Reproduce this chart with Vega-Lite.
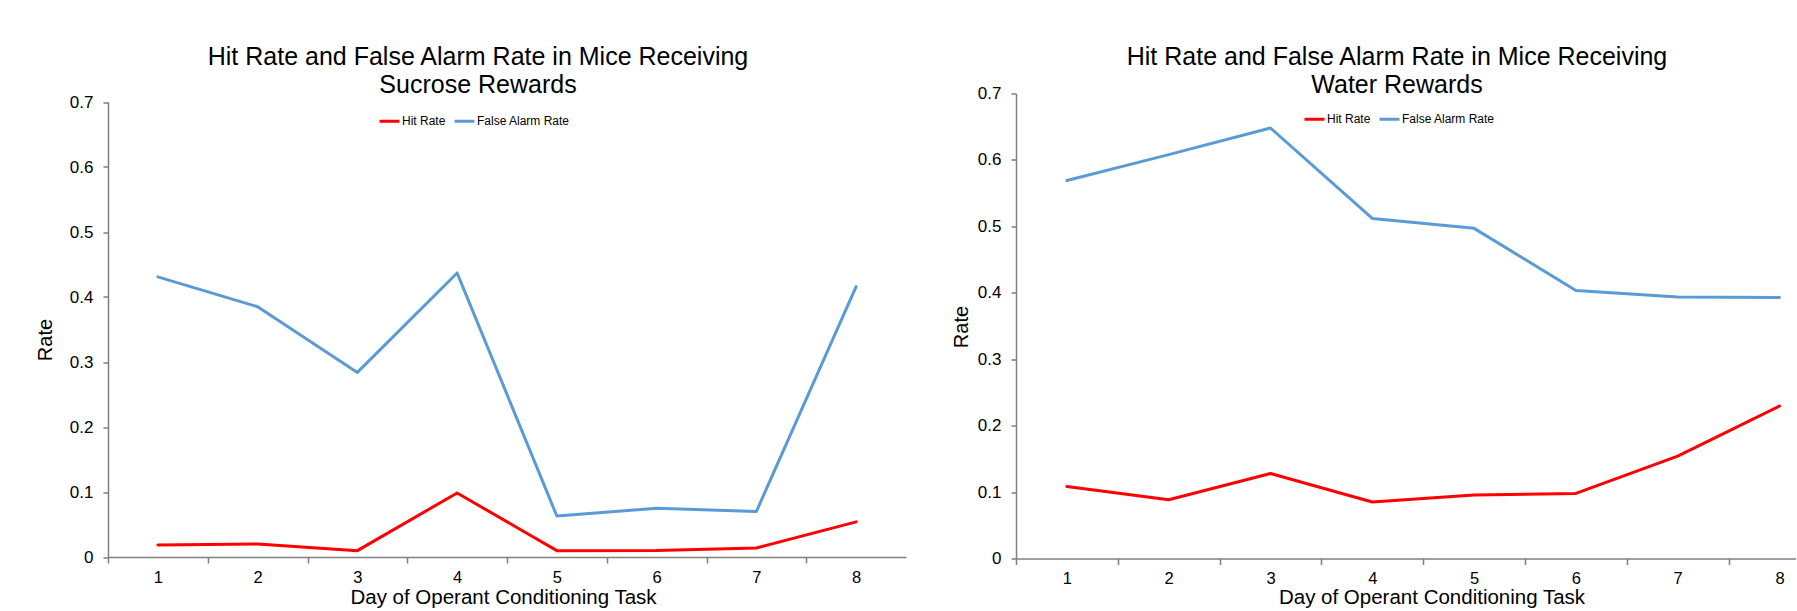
{
  "$schema": "https://vega.github.io/schema/vega-lite/v6.json",
  "background": "white",
  "padding": {"left": 35, "top": 44.5, "right": 0, "bottom": 0},
  "spacing": 110,
  "bounds": "flush",
  "config": {
    "font": "Liberation Sans",
    "view": {"stroke": null},
    "axis": {
      "grid": false,
      "domainColor": "#7f7f7f",
      "domainWidth": 1.5,
      "tickColor": "#7f7f7f",
      "tickWidth": 1.5,
      "labelColor": "#000000",
      "labelFontSize": 17,
      "titleColor": "#000000",
      "titleFontSize": 20.5,
      "titleFontWeight": "normal"
    },
    "axisX": {"tickSize": 6, "labelPadding": 6, "labelFontSize": 16.5},
    "axisY": {"tickSize": 5, "labelPadding": 10},
    "legend": {"labelFontSize": 12, "labelColor": "#000000"},
    "title": {"fontSize": 25, "fontWeight": "normal", "color": "#000000", "lineHeight": 28.5, "frame": "group", "anchor": "middle"}
  },
  "resolve": {
    "scale": {"x": "independent", "y": "independent", "color": "independent"},
    "legend": {"color": "independent"}
  },
  "datasets": {
    "sucrose": [
      {"day": 1, "series": "Hit Rate", "rate": 0.0185},
      {"day": 2, "series": "Hit Rate", "rate": 0.02},
      {"day": 3, "series": "Hit Rate", "rate": 0.0098},
      {"day": 4, "series": "Hit Rate", "rate": 0.0985},
      {"day": 5, "series": "Hit Rate", "rate": 0.0098},
      {"day": 6, "series": "Hit Rate", "rate": 0.01},
      {"day": 7, "series": "Hit Rate", "rate": 0.0138},
      {"day": 8, "series": "Hit Rate", "rate": 0.054},
      {"day": 1, "series": "False Alarm Rate", "rate": 0.431},
      {"day": 2, "series": "False Alarm Rate", "rate": 0.385},
      {"day": 3, "series": "False Alarm Rate", "rate": 0.284},
      {"day": 4, "series": "False Alarm Rate", "rate": 0.437},
      {"day": 5, "series": "False Alarm Rate", "rate": 0.063},
      {"day": 6, "series": "False Alarm Rate", "rate": 0.075},
      {"day": 7, "series": "False Alarm Rate", "rate": 0.07},
      {"day": 8, "series": "False Alarm Rate", "rate": 0.416}
    ],
    "water": [
      {"day": 1, "series": "Hit Rate", "rate": 0.1085},
      {"day": 2, "series": "Hit Rate", "rate": 0.0884},
      {"day": 3, "series": "Hit Rate", "rate": 0.128},
      {"day": 4, "series": "Hit Rate", "rate": 0.085},
      {"day": 5, "series": "Hit Rate", "rate": 0.0955},
      {"day": 6, "series": "Hit Rate", "rate": 0.098},
      {"day": 7, "series": "Hit Rate", "rate": 0.154},
      {"day": 8, "series": "Hit Rate", "rate": 0.2296},
      {"day": 1, "series": "False Alarm Rate", "rate": 0.569},
      {"day": 2, "series": "False Alarm Rate", "rate": 0.608},
      {"day": 3, "series": "False Alarm Rate", "rate": 0.648},
      {"day": 4, "series": "False Alarm Rate", "rate": 0.512},
      {"day": 5, "series": "False Alarm Rate", "rate": 0.497},
      {"day": 6, "series": "False Alarm Rate", "rate": 0.4035},
      {"day": 7, "series": "False Alarm Rate", "rate": 0.3935},
      {"day": 8, "series": "False Alarm Rate", "rate": 0.393}
    ]
  },
  "hconcat": [
    {
      "width": 798,
      "height": 465,
      "data": {"name": "sucrose"},
      "title": {"text": ["Hit Rate and False Alarm Rate in Mice Receiving", "Sucrose Rewards"], "dx": -29, "offset": -5},
      "mark": {"type": "line", "strokeWidth": 3, "strokeCap": "round", "strokeJoin": "round"},
      "encoding": {
        "x": {
          "field": "day", "type": "quantitative",
          "scale": {"domain": [0.5, 8.5], "nice": false, "zero": false},
          "axis": {"values": [1, 2, 3, 4, 5, 6, 7, 8], "format": "d", "tickOffset": -49.875, "labelOffset": 49.875, "offset": -1.5,
            "title": "Day of Operant Conditioning Task", "titleX": 395, "titleY": 46.5, "titleAlign": "center", "titleBaseline": "alphabetic"}
        },
        "y": {
          "field": "rate", "type": "quantitative",
          "scale": {"domain": [0, 0.7], "range": [463.5, 8.5], "nice": false, "zero": true},
          "axis": {"values": [0, 0.1, 0.2, 0.3, 0.4, 0.5, 0.6, 0.7], "format": ".1~f",
            "title": "Rate", "titleAngle": -90, "titleX": -63, "titleY": 246, "titleAlign": "center", "titleBaseline": "middle", "titleFontSize": 20}
        },
        "color": {
          "field": "series", "type": "nominal",
          "scale": {"domain": ["Hit Rate", "False Alarm Rate"], "range": ["#FF0000", "#5B9BD5"]},
          "legend": {"orient": "none", "legendX": 270, "legendY": 16, "direction": "horizontal", "title": null,
            "symbolType": "stroke", "symbolSize": 400, "symbolStrokeWidth": 3, "labelOffset": 1, "columnPadding": 2}
        }
      }
    },
    {
      "width": 780,
      "height": 465,
      "data": {"name": "water"},
      "title": {"text": ["Hit Rate and False Alarm Rate in Mice Receiving", "Water Rewards"], "dx": -9, "offset": -13.5},
      "mark": {"type": "line", "strokeWidth": 3, "strokeCap": "round", "strokeJoin": "round"},
      "encoding": {
        "x": {
          "field": "day", "type": "quantitative",
          "scale": {"domain": [0.5, 8.162], "nice": false, "zero": false},
          "axis": {"values": [1, 2, 3, 4, 5, 6, 7, 8], "format": "d", "tickOffset": -50.9, "labelOffset": 50.9,
            "title": "Day of Operant Conditioning Task", "titleX": 415.5, "titleY": 45, "titleAlign": "center", "titleBaseline": "alphabetic"}
        },
        "y": {
          "field": "rate", "type": "quantitative",
          "scale": {"domain": [0, 0.7], "nice": false, "zero": true},
          "axis": {"values": [0, 0.1, 0.2, 0.3, 0.4, 0.5, 0.6, 0.7], "format": ".1~f",
            "title": "Rate", "titleAngle": -90, "titleX": -54.5, "titleY": 233, "titleAlign": "center", "titleBaseline": "middle", "titleFontSize": 20}
        },
        "color": {
          "field": "series", "type": "nominal",
          "scale": {"domain": ["Hit Rate", "False Alarm Rate"], "range": ["#FF0000", "#5B9BD5"]},
          "legend": {"orient": "none", "legendX": 287, "legendY": 14, "direction": "horizontal", "title": null,
            "symbolType": "stroke", "symbolSize": 400, "symbolStrokeWidth": 3, "labelOffset": 1, "columnPadding": 2}
        }
      }
    }
  ]
}
